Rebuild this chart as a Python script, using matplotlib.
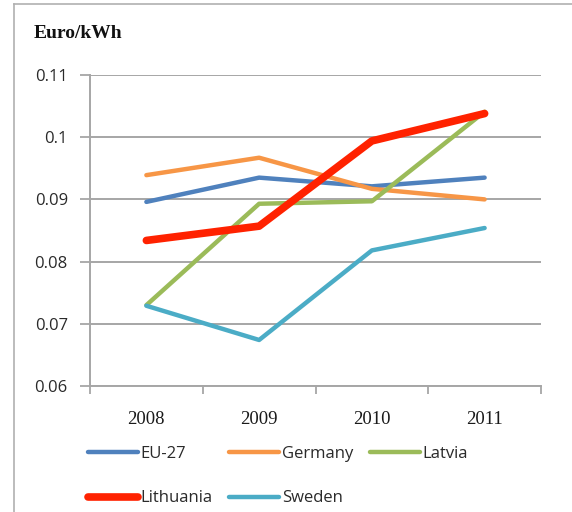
import matplotlib.pyplot as plt
from matplotlib.lines import Line2D

years = ['2008', '2009', '2010', '2011']
eu27 = [0.0896, 0.0935, 0.0921, 0.0935]
germany = [0.0939, 0.0967, 0.0917, 0.0900]
latvia = [0.0730, 0.0893, 0.0897, 0.1041]
lithuania = [0.0834, 0.0857, 0.0994, 0.1038]
sweden = [0.0729, 0.0674, 0.0818, 0.0854]
yticks = [0.06, 0.07, 0.08, 0.09, 0.1, 0.11]
ytick_labels = ['0.06', '0.07', '0.08', '0.09', '0.1', '0.11']

grid_col = '#a6a6a6'
sans = ['Open Sans', 'DejaVu Sans']
serif = ['Liberation Serif', 'DejaVu Serif']

fig = plt.figure(figsize=(5.72, 5.12), dpi=100)
ax = fig.add_axes([90 / 572, 1 - 386 / 512, 451 / 572, 311 / 512])

x = range(len(years))
l_eu, = ax.plot(x, eu27, color='#4f81bd', lw=3.2, label='EU-27', solid_capstyle='round')
l_de, = ax.plot(x, germany, color='#f79646', lw=3.2, label='Germany', solid_capstyle='round')
l_lv, = ax.plot(x, latvia, color='#9bbb59', lw=3.2, label='Latvia', solid_capstyle='round')
l_lt, = ax.plot(x, lithuania, color='#ff2200', lw=5.5, label='Lithuania', solid_capstyle='round')
l_se, = ax.plot(x, sweden, color='#4bacc6', lw=3.2, label='Sweden', solid_capstyle='round')

ax.set_xlim(-0.5, 3.5)
ax.set_ylim(0.06, 0.11)
ax.set_yticks(yticks)
ax.set_yticklabels(ytick_labels, fontfamily=sans, fontsize=12, color='#2a2a2a')
ax.set_xticks(list(x))
ax.set_xticklabels(years, fontfamily=serif, fontsize=13.5, color='#1a1a1a')
ax.set_xticks([-0.5, 0.5, 1.5, 2.5, 3.5], minor=True)
ax.tick_params(axis='x', which='major', length=0, pad=18)
ax.tick_params(axis='x', which='minor', length=6, color=grid_col, width=1.3)
ax.tick_params(axis='y', length=7, color=grid_col, width=1.3, pad=9)

ax.yaxis.grid(True, color=grid_col, lw=1.4)
ax.set_axisbelow(True)
for s in ['top', 'right']:
    ax.spines[s].set_visible(False)
for s in ['left', 'bottom']:
    ax.spines[s].set_color(grid_col)
    ax.spines[s].set_linewidth(1.4)

fig.text(34 / 572, 1 - 33 / 512, 'Euro/kWh', fontfamily=serif, fontsize=14,
         fontweight='bold', va='center', ha='left', color='#111111')

handles = [l_eu, l_lt, l_de, l_se, l_lv]
leg = fig.legend(handles, [h.get_label() for h in handles], ncol=3, frameon=False,
                 loc='upper left', bbox_to_anchor=(73 / 572, 1 - 431 / 512),
                 prop={'family': sans, 'size': 12}, handlelength=3.0,
                 handletextpad=0.15, columnspacing=1.0, labelspacing=1.7,
                 labelcolor='#2a2a2a')

# outer frame
fig.add_artist(Line2D([14 / 572, 14 / 572], [0, 1 - 4 / 512], color='#b0b0b0', lw=1.2))
fig.add_artist(Line2D([14 / 572, 1], [1 - 4 / 512, 1 - 4 / 512], color='#b0b0b0', lw=1.2))

fig.savefig('out.png', dpi=100)
